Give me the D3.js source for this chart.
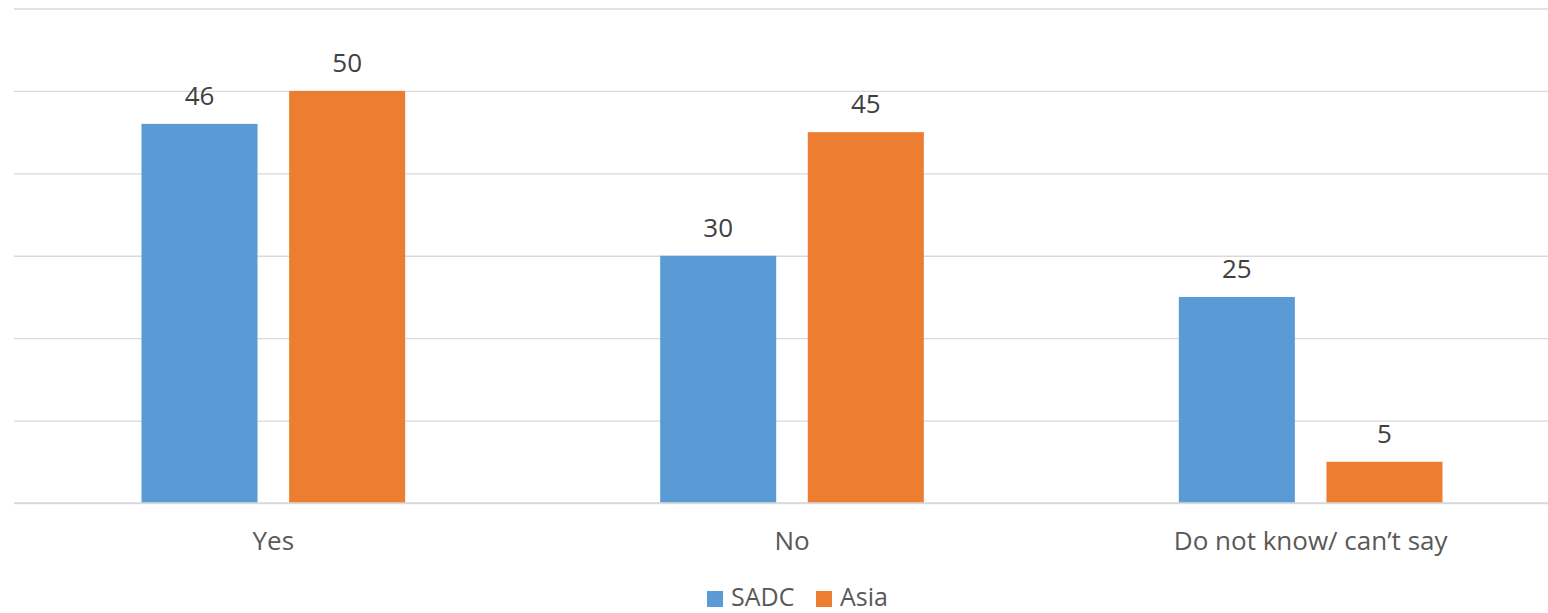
<!DOCTYPE html>
<html>
<head>
<meta charset="utf-8">
<script src="https://cdn.jsdelivr.net/npm/d3@7"></script>
<style>
  html, body { margin: 0; padding: 0; background: #fff; }
  svg { display: block; font-family: "Open Sans", "Noto Sans", sans-serif; }
</style>
</head>
<body>
<svg id="chart" width="1548" height="613"></svg>
<script>
// Survey responses by region
const categories = ["Yes", "No", "Do not know/ can\u2019t say"];
const seriesNames = ["SADC", "Asia"];
const sadcValues = [46, 30, 25];
const asiaValues = [50, 45, 5];
const yTicks = [0, 10, 20, 30, 40, 50, 60];
const seriesColors = ["#5B9BD5", "#ED7D31"];

const series = [sadcValues, asiaValues];

const svg = d3.select("#chart");
const margin = { left: 14, top: 8.5 };
const plotRight = 1570;
const baseline = 503;
const fontSize = 26;

const x = d3.scaleBand()
  .domain(categories)
  .range([margin.left, plotRight])
  .paddingInner(0)
  .paddingOuter(0);

const inner = d3.scaleBand()
  .domain(seriesNames)
  .range([127.5, x.bandwidth() - 127.5])
  .paddingInner(0.214)
  .paddingOuter(0);

const y = d3.scaleLinear().domain([0, 60]).range([baseline, margin.top]);

// Horizontal gridlines
const grid = d3.axisLeft(y)
  .tickValues(yTicks)
  .tickSize(-(plotRight - margin.left))
  .tickFormat("");
svg.append("g")
  .attr("transform", `translate(${margin.left},0)`)
  .call(grid)
  .call(g => g.select(".domain").remove())
  .call(g => g.selectAll("line").attr("stroke", "#d9d9d9").attr("stroke-width", 1.4));

// Bars and value labels
seriesNames.forEach((name, si) => {
  const g = svg.append("g");
  g.selectAll("rect")
    .data(series[si])
    .join("rect")
    .attr("x", (d, i) => x(categories[i]) + inner(name))
    .attr("y", d => y(d))
    .attr("width", inner.bandwidth())
    .attr("height", d => baseline - y(d))
    .attr("fill", seriesColors[si]);
  g.selectAll("text")
    .data(series[si])
    .join("text")
    .attr("x", (d, i) => x(categories[i]) + inner(name) + inner.bandwidth() / 2)
    .attr("y", d => y(d) - 19)
    .attr("text-anchor", "middle")
    .attr("font-size", fontSize)
    .attr("fill", "#404040")
    .text(d => d);
});

// Category axis labels
const xAxis = d3.axisBottom(x).tickSize(0).tickPadding(0);
svg.append("g")
  .attr("transform", `translate(0,${baseline})`)
  .call(xAxis)
  .call(g => g.select(".domain").remove())
  .call(g => g.selectAll("text")
    .attr("dy", null)
    .attr("y", 47)
    .attr("font-size", fontSize)
    .attr("font-family", "\"Open Sans\", \"Noto Sans\", sans-serif")
    .attr("fill", "#595959"));

// Baseline
svg.append("line")
  .attr("x1", margin.left).attr("x2", plotRight)
  .attr("y1", baseline).attr("y2", baseline)
  .attr("stroke", "#d9d9d9").attr("stroke-width", 1.4);

// Legend
const legendItems = [
  { name: "SADC", x: 707, color: seriesColors[0] },
  { name: "Asia", x: 816, color: seriesColors[1] }
];
const legend = svg.append("g");
legendItems.forEach(item => {
  legend.append("rect")
    .attr("x", item.x).attr("y", 591)
    .attr("width", 16).attr("height", 16)
    .attr("fill", item.color);
  legend.append("text")
    .attr("x", item.x + 24).attr("y", 606)
    .attr("font-size", 25)
    .attr("fill", "#595959")
    .text(item.name);
});
</script>
</body>
</html>
